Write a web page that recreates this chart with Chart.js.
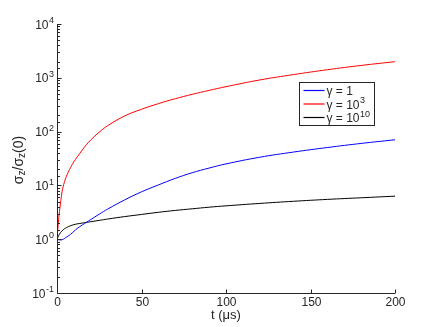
<!DOCTYPE html>
<html>
<head>
<meta charset="utf-8">
<script src="https://cdn.jsdelivr.net/npm/chart.js@4"></script>
<style>
  body { margin: 0; background: #fff; }
</style>
</head>
<body>
<canvas id="myChart" width="436" height="327"></canvas>
<script>
// time axis (microseconds)
const t = [0, 1, 2, 3, 4, 5, 6, 8, 10, 12, 15, 17.5, 20, 25, 30, 40, 50, 60, 70, 80, 90, 100, 120, 140, 160, 180, 200];

// sigma_z / sigma_z(0) for each gamma
const gamma1 = [1, 0.977, 0.966, 0.977, 1.01, 1.06, 1.11, 1.23, 1.40, 1.585, 1.84, 2.065, 2.32, 2.92, 3.63, 5.37, 7.59, 10.2, 13.5, 17.2, 21.0, 25.1, 33.4, 41.7, 50.6, 60.3, 70.5];
const gamma1e3 = [1, 2.4, 4.5, 7.6, 10.5, 13.2, 15.8, 21.4, 27.5, 33.9, 45.7, 57.5, 70, 97.7, 129, 195, 260, 331, 409, 493, 583, 684, 912, 1148, 1413, 1698, 1995];
const gamma1e10 = [1, 1.175, 1.318, 1.429, 1.531, 1.603, 1.667, 1.778, 1.862, 1.928, 1.995, 2.056, 2.113, 2.239, 2.371, 2.63, 2.884, 3.162, 3.428, 3.673, 3.936, 4.169, 4.624, 5.07, 5.495, 5.888, 6.31];

const seriesNames = [['\u03b3 = 1', ''], ['\u03b3 = 10', '3'], ['\u03b3 = 10', '10']];
const seriesColors = ['#0000ff', '#ff0000', '#000000'];

const yTickValues = [0.1, 1, 10, 100, 1000, 10000];
const yTickExp = ['-1', '0', '1', '2', '3', '4'];
const xTickValues = [0, 50, 100, 150, 200];

function pts(ys) {
    return ys.map((y, i) => ({ x: t[i], y: y }));
}

const FONT = '"Liberation Sans", Arial, sans-serif';
const INK = '#262626';

// draws base text with a superscript, returns width
function supText(ctx, base, sup, x, y, size, draw) {
    ctx.font = size + 'px ' + FONT;
    const wb = ctx.measureText(base).width;
    ctx.font = Math.round(size * 0.72) + 'px ' + FONT;
    const ws = sup ? ctx.measureText(sup).width : 0;
    if (draw) {
        ctx.textBaseline = 'alphabetic';
        ctx.textAlign = 'left';
        ctx.font = size + 'px ' + FONT;
        ctx.fillText(base, x, y);
        if (sup) {
            ctx.font = Math.round(size * 0.72) + 'px ' + FONT;
            ctx.fillText(sup, x + wb + 0.5, y - size * 0.45);
        }
    }
    return wb + ws + (sup ? 0.5 : 0);
}

const axesPlugin = {
    id: 'matlabAxes',
    afterDraw(chart) {
        const ctx = chart.ctx;
        const area = chart.chartArea;
        const xs = chart.scales.x;
        const ys = chart.scales.y;
        ctx.save();
        ctx.strokeStyle = INK;
        ctx.fillStyle = INK;
        ctx.lineWidth = 1;

        // axis lines
        const L = Math.round(area.left) + 0.5;
        const B = Math.round(area.bottom) + 0.5;
        ctx.beginPath();
        ctx.moveTo(L, area.top);
        ctx.lineTo(L, B);
        ctx.lineTo(area.right, B);
        ctx.stroke();

        // y ticks (inward)
        ys.ticks.forEach(tk => {
            const lg = Math.log10(tk.value);
            const major = Math.abs(lg - Math.round(lg)) < 1e-6;
            const py = Math.round(ys.getPixelForValue(tk.value)) + 0.5;
            ctx.beginPath();
            ctx.moveTo(L, py);
            ctx.lineTo(L + (major ? 4 : 2.5), py);
            ctx.stroke();
        });

        // y tick labels 10^n
        yTickValues.forEach((v, i) => {
            const py = ys.getPixelForValue(v);
            const w = supText(ctx, '10', yTickExp[i], 0, 0, 12, false);
            supText(ctx, '10', yTickExp[i], 54 - w, py + 4.5, 12, true);
        });

        // x ticks and labels
        xTickValues.forEach(v => {
            const px = Math.round(xs.getPixelForValue(v)) + 0.5;
            ctx.beginPath();
            ctx.moveTo(px, B);
            ctx.lineTo(px, B - 4);
            ctx.stroke();
            ctx.font = '12px ' + FONT;
            ctx.textAlign = 'center';
            ctx.textBaseline = 'top';
            ctx.fillText(String(v), px, B + 3);
        });

        // x title
        ctx.font = '13px ' + FONT;
        ctx.textAlign = 'center';
        ctx.textBaseline = 'middle';
        ctx.fillText('t (\u03bcs)', (area.left + area.right) / 2, 315);

        // y title: sigma_z / sigma_z(0)
        ctx.save();
        ctx.translate(19, 160);
        ctx.rotate(-Math.PI / 2);
        const parts = [['\u03c3', 14, 0], ['z', 10, 3.5], ['/\u03c3', 14, 0], ['z', 10, 3.5], ['(0)', 14, 0]];
        let total = 0;
        parts.forEach(p => { ctx.font = p[1] + 'px ' + FONT; total += ctx.measureText(p[0]).width; });
        let cx = -total / 2;
        ctx.textAlign = 'left';
        ctx.textBaseline = 'middle';
        parts.forEach(p => {
            ctx.font = p[1] + 'px ' + FONT;
            ctx.fillText(p[0], cx, p[2]);
            cx += ctx.measureText(p[0]).width;
        });
        ctx.restore();

        // legend box
        const bx = area.right - 95.5, by = area.top + 58.5, bw = 75, bh = 43;
        ctx.fillStyle = '#fff';
        ctx.fillRect(bx, by, bw, bh);
        ctx.strokeStyle = INK;
        ctx.strokeRect(bx, by, bw, bh);
        chart.data.datasets.forEach((ds, i) => {
            const ry = by + 8 + i * 13.5;
            ctx.strokeStyle = ds.borderColor;
            ctx.lineWidth = 1.2;
            ctx.beginPath();
            ctx.moveTo(bx + 4, ry);
            ctx.lineTo(bx + 25, ry);
            ctx.stroke();
            ctx.fillStyle = INK;
            supText(ctx, seriesNames[i][0], seriesNames[i][1], bx + 27, ry + 4.5, 12, true);
        });
        ctx.restore();
    }
};

new Chart(document.getElementById('myChart'), {
    type: 'line',
    data: {
        datasets: [
            { label: 'gamma = 1', data: pts(gamma1), borderColor: seriesColors[0] },
            { label: 'gamma = 10^3', data: pts(gamma1e3), borderColor: seriesColors[1] },
            { label: 'gamma = 10^10', data: pts(gamma1e10), borderColor: seriesColors[2] }
        ]
    },
    options: {
        responsive: false,
        animation: false,
        layout: { padding: { left: 57, right: 41, top: 24, bottom: 34 } },
        elements: {
            point: { radius: 0 },
            line: { borderWidth: 1, tension: 0.4, fill: false }
        },
        plugins: { legend: { display: false }, tooltip: { enabled: false } },
        scales: {
            x: {
                type: 'linear', min: 0, max: 200,
                ticks: { display: false, stepSize: 50 },
                grid: { display: false, drawTicks: false },
                border: { display: false },
                afterFit: s => { s.height = 0; }
            },
            y: {
                type: 'logarithmic', min: 0.1, max: 10000,
                ticks: { display: false, autoSkip: false },
                grid: { display: false, drawTicks: false },
                border: { display: false },
                afterFit: s => { s.width = 0; }
            }
        }
    },
    plugins: [axesPlugin]
});
</script>
</body>
</html>
